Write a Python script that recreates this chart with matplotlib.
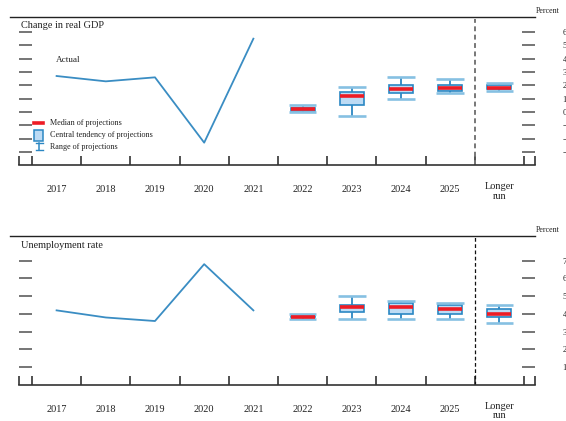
import matplotlib
matplotlib.use("Agg")
import matplotlib.pyplot as plt
from matplotlib.lines import Line2D
from matplotlib.patches import Rectangle
import matplotlib.transforms as mtransforms
import numpy as np

plt.rcParams['font.family'] = ['Liberation Serif', 'DejaVu Serif']
plt.rcParams['axes.unicode_minus'] = True

categories = ['2017', '2018', '2019', '2020', '2021', '2022', '2023', '2024', '2025', 'Longer\nrun']

# Actuals
gdp_actual = [2.7, 2.3, 2.6, -2.3, 5.5]
unemp_actual = [4.2, 3.8, 3.6, 6.8, 4.2]

# Projections (2022, 2023, 2024, 2025, Longer run)
gdp_median = [0.2, 1.2, 1.7, 1.8, 1.8]
gdp_ct_lo = [0.1, 0.5, 1.4, 1.6, 1.7]
gdp_ct_hi = [0.3, 1.5, 2.0, 2.0, 2.0]
gdp_rng_lo = [0.0, -0.3, 1.0, 1.4, 1.6]
gdp_rng_hi = [0.5, 1.9, 2.6, 2.5, 2.2]

unemp_median = [3.8, 4.4, 4.4, 4.3, 4.0]
unemp_ct_lo = [3.8, 4.1, 4.0, 4.0, 3.8]
unemp_ct_hi = [3.9, 4.5, 4.6, 4.5, 4.3]
unemp_rng_lo = [3.7, 3.7, 3.7, 3.7, 3.5]
unemp_rng_hi = [4.0, 5.0, 4.7, 4.6, 4.5]

gdp_ticks = [6, 5, 4, 3, 2, 1, 0, -1, -2, -3]
unemp_ticks = [7, 6, 5, 4, 3, 2, 1]

W, H = 566, 421
fig = plt.figure(figsize=(W / 100, H / 100), dpi=100)

LINE_C = '#3a8dc3'
BOX_FACE = '#bddbf4'
BOX_EDGE = '#2b87c3'
CAP_C = '#86c0e2'
MED_C = '#ee1c25'
TICK_C = '#6a6a6a'

XL = (-0.764, 9.724)


def fx(x):
    return x / W


def fy(y):
    return 1 - y / H


def make_axes(top_px, bottom_px, ylim):
    ax = fig.add_axes([fx(19), fy(bottom_px), fx(535) - fx(19), (bottom_px - top_px) / H])
    ax.set_xlim(*XL)
    ax.set_ylim(*ylim)
    for s in ['top', 'left', 'right']:
        ax.spines[s].set_visible(False)
    ax.spines['bottom'].set_color('#333333')
    ax.spines['bottom'].set_linewidth(1.2)
    ax.patch.set_alpha(0)
    return ax


def style_axes(ax, yticks, top_px, bottom_px):
    ax.set_yticks(yticks)
    ax.set_yticklabels([str(t).replace('-', '\u2212') for t in yticks])
    ax.tick_params(axis='y', which='major', direction='in', length=9.5, width=1.3,
                   color=TICK_C, left=True, right=True, labelleft=False, labelright=True,
                   pad=20, labelsize=6.2, labelcolor='#222222')
    ax.set_xticks(np.arange(len(categories)))
    labels = [c if '\n' not in c else '' for c in categories]
    ax.set_xticklabels(labels, fontsize=7.4, color='#222222')
    ax.tick_params(axis='x', which='major', length=0, pad=14.5)
    minor = list(np.arange(-0.5, 10.0, 1.0)) + [XL[0] + 0.01, XL[1] - 0.01]
    ax.set_xticks(minor, minor=True)
    ax.tick_params(axis='x', which='minor', direction='in', length=6.8, width=1.2, color='#333333')
    trans = mtransforms.blended_transform_factory(ax.transData, ax.transAxes)
    h = bottom_px - top_px
    for i, c in enumerate(categories):
        if '\n' in c:
            ax.text(i, -26.0 / h, c, transform=trans, ha='center', va='center',
                    fontsize=7.4, linespacing=1.08, color='#222222')


def draw_proj(ax, med, clo, chi, rlo, rhi):
    xs = np.arange(5, 5 + len(med))
    ax.vlines(xs, rlo, rhi, color=BOX_EDGE, lw=1.3, zorder=2)
    ax.bar(xs, np.array(chi) - np.array(clo), bottom=clo, width=0.49,
           color=BOX_FACE, edgecolor=BOX_EDGE, linewidth=1.2, zorder=3)
    ax.hlines(rlo, xs - 0.28, xs + 0.28, color=CAP_C, lw=1.9, zorder=4)
    ax.hlines(rhi, xs - 0.28, xs + 0.28, color=CAP_C, lw=1.9, zorder=4)
    ax.hlines(med, xs - 0.245, xs + 0.245, color=MED_C, lw=2.6, zorder=5)


# ---------------- GDP panel ----------------
s1 = 13.33
gdp_lim = (-4.0, 7.1)
t1, b1 = 112 - gdp_lim[1] * s1, 112 - gdp_lim[0] * s1
ax1 = make_axes(t1, b1, gdp_lim)
style_axes(ax1, gdp_ticks, t1, b1)
ax1.plot(np.arange(len(gdp_actual)), gdp_actual, color=LINE_C, lw=1.3, zorder=3)
draw_proj(ax1, gdp_median, gdp_ct_lo, gdp_ct_hi, gdp_rng_lo, gdp_rng_hi)
ax1.axvline(8.5, ymin=0, ymax=(7.0 - gdp_lim[0]) / (gdp_lim[1] - gdp_lim[0]),
            color='#777777', lw=1.4, ls=(0, (2.5, 1.8)))
ax1.text(-0.02, 3.9, 'Actual', fontsize=6.6, va='center', ha='left', color='#222222')

# ---------------- Unemployment panel ----------------
s2 = 17.77
un_lim = (0.0, 8.4)
t2, b2 = 385 - un_lim[1] * s2, 385
ax2 = make_axes(t2, b2, un_lim)
style_axes(ax2, unemp_ticks, t2, b2)
ax2.plot(np.arange(len(unemp_actual)), unemp_actual, color=LINE_C, lw=1.3, zorder=3)
draw_proj(ax2, unemp_median, unemp_ct_lo, unemp_ct_hi, unemp_rng_lo, unemp_rng_hi)
ax2.axvline(8.5, color='#111111', lw=0.9, ls=(0, (3, 2)))

# ---------------- Decorations ----------------
for ytop in (17, 236):
    fig.add_artist(Line2D([fx(10), fx(535)], [fy(ytop), fy(ytop)], color='#222222', lw=1.0))

fig.text(fx(21), fy(26), 'Change in real GDP', fontsize=7.4, va='center', ha='left', color='#222222')
fig.text(fx(21), fy(246), 'Unemployment rate', fontsize=7.4, va='center', ha='left', color='#222222')
fig.text(fx(536), fy(11), 'Percent', fontsize=5.8, va='center', ha='left', color='#222222')
fig.text(fx(536), fy(230), 'Percent', fontsize=5.8, va='center', ha='left', color='#222222')

# Legend
fig.add_artist(Line2D([fx(34), fx(43)], [fy(123), fy(123)], color=MED_C, lw=2.6))
fig.add_artist(Rectangle((fx(34), fy(140.5)), fx(43) - fx(34), (140.5 - 129.5) / H,
                         facecolor=BOX_FACE, edgecolor=BOX_EDGE, lw=1.1, transform=fig.transFigure))
fig.add_artist(Line2D([fx(39), fx(39)], [fy(143), fy(150)], color=BOX_EDGE, lw=1.1))
fig.add_artist(Line2D([fx(35.5), fx(42.5)], [fy(143), fy(143)], color=BOX_EDGE, lw=1.0))
fig.add_artist(Line2D([fx(35.5), fx(42.5)], [fy(150), fy(150)], color=BOX_EDGE, lw=1.0))
for txt, yy in [('Median of projections', 123), ('Central tendency of projections', 135),
                ('Range of projections', 147)]:
    fig.text(fx(50.5), fy(yy), txt, fontsize=5.9, va='center', ha='left', color='#222222')

fig.savefig('out.png', dpi=100)
